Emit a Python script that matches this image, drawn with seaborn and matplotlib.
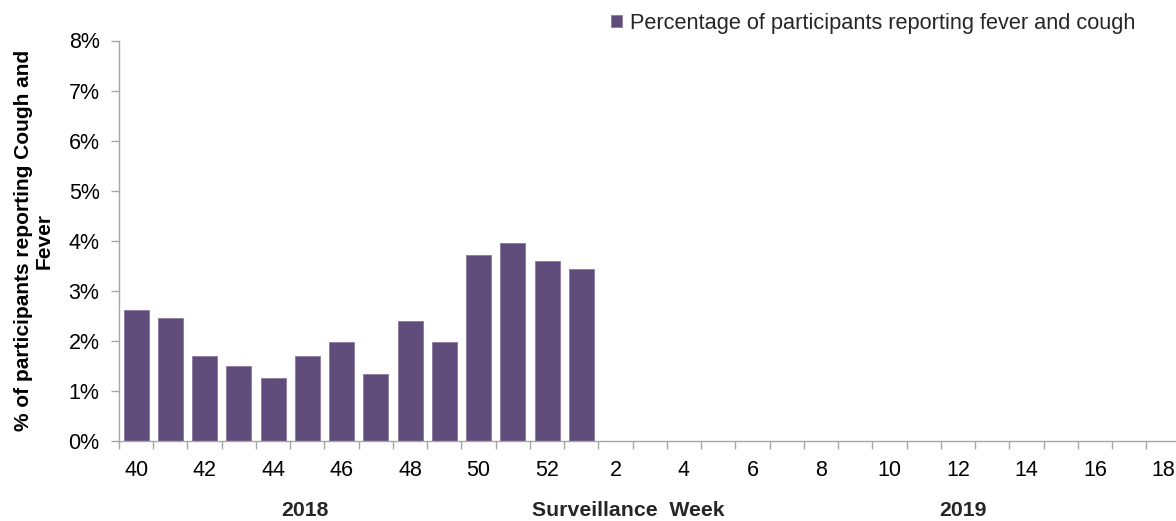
import matplotlib
matplotlib.use("Agg")
import matplotlib.pyplot as plt
from matplotlib.ticker import FuncFormatter, FixedLocator
import seaborn as sns
import pandas as pd

# surveillance weeks: 2018 wk 40-52, then 2019 wk 1-18
weeks_2018 = [str(w) for w in range(40, 53)]
weeks_2019 = [str(w) for w in range(1, 19)]
all_weeks = weeks_2018 + weeks_2019

# weeks with data so far
data_weeks = weeks_2018 + ["1"]
pct_fever_cough = [2.62, 2.45, 1.70, 1.50, 1.25, 1.70, 1.98, 1.34, 2.39, 1.98,
                   3.72, 3.96, 3.60, 3.44]

y_ticks = [0, 1, 2, 3, 4, 5, 6, 7, 8]
legend_label = "Percentage of participants reporting fever and cough"
bar_color = "#604C7B"
axis_grey = "#A6A6A6"

df = pd.DataFrame({"week": data_weeks, "pct": pct_fever_cough})

sns.set_theme(style="white")
plt.rcParams["font.family"] = ["Liberation Sans", "DejaVu Sans"]

fig = plt.figure(figsize=(11.76, 5.21), dpi=100)
W, H = 1176, 521
ax_w = 1180.5 - 119
ax = fig.add_axes([119 / W, (H - 441) / H, ax_w / W, (441 - 40.5) / H])

sns.barplot(data=df, x="week", y="pct", order=all_weeks, color=bar_color,
            saturation=1, width=0.73, ax=ax, edgecolor="#8A7BA0", linewidth=0.6)

ax.set_xlim(-0.5, len(all_weeks) - 0.5)
ax.set_ylim(0, 8)

# y axis
ax.yaxis.set_major_locator(FixedLocator(y_ticks))
ax.yaxis.set_major_formatter(FuncFormatter(lambda v, p: f"{v:.0f}%"))
ax.tick_params(axis="y", which="major", left=True, length=6, width=1,
               color=axis_grey, labelsize=15.5, pad=8, labelcolor="black")

# x axis: labels every other week, tick marks between categories
label_pos = [i for i, w in enumerate(all_weeks) if int(w) % 2 == 0]
ax.set_xticks(label_pos)
ax.set_xticklabels([all_weeks[i] for i in label_pos])
ax.set_xticks([i - 0.5 for i in range(len(all_weeks) + 1)], minor=True)
ax.tick_params(axis="x", which="major", length=0, labelsize=15.5, pad=14,
               labelcolor="black")
ax.tick_params(axis="x", which="minor", bottom=True, length=6, width=1,
               color=axis_grey)

for side in ["top", "right"]:
    ax.spines[side].set_visible(False)
for side in ["left", "bottom"]:
    ax.spines[side].set_color(axis_grey)
    ax.spines[side].set_linewidth(1)

ax.set_xlabel("")
ax.set_ylabel("% of participants reporting Cough and\nFever", fontsize=15,
              fontweight="bold", color="black", linespacing=1.1)
ax.yaxis.set_label_coords((54 - 119) / ax_w, 0.5)

# legend
ax.legend(handles=[ax.patches[0]], labels=[legend_label], frameon=False,
          loc="center left", bbox_to_anchor=(611 / W, (H - 23) / H),
          bbox_transform=fig.transFigure, fontsize=15.7, handlelength=0.5,
          handleheight=0.5, handletextpad=0.35, borderpad=0, borderaxespad=0)

# year / axis title labels under the axis
fig.text(305 / W, (H - 511) / H, "2018", ha="center", va="center",
         fontsize=15.3, fontweight="bold")
fig.text(628 / W, (H - 511) / H, "Surveillance  Week", ha="center", va="center",
         fontsize=15.3, fontweight="bold")
fig.text(963 / W, (H - 511) / H, "2019", ha="center", va="center",
         fontsize=15.3, fontweight="bold")

fig.savefig("out.png", dpi=100)
